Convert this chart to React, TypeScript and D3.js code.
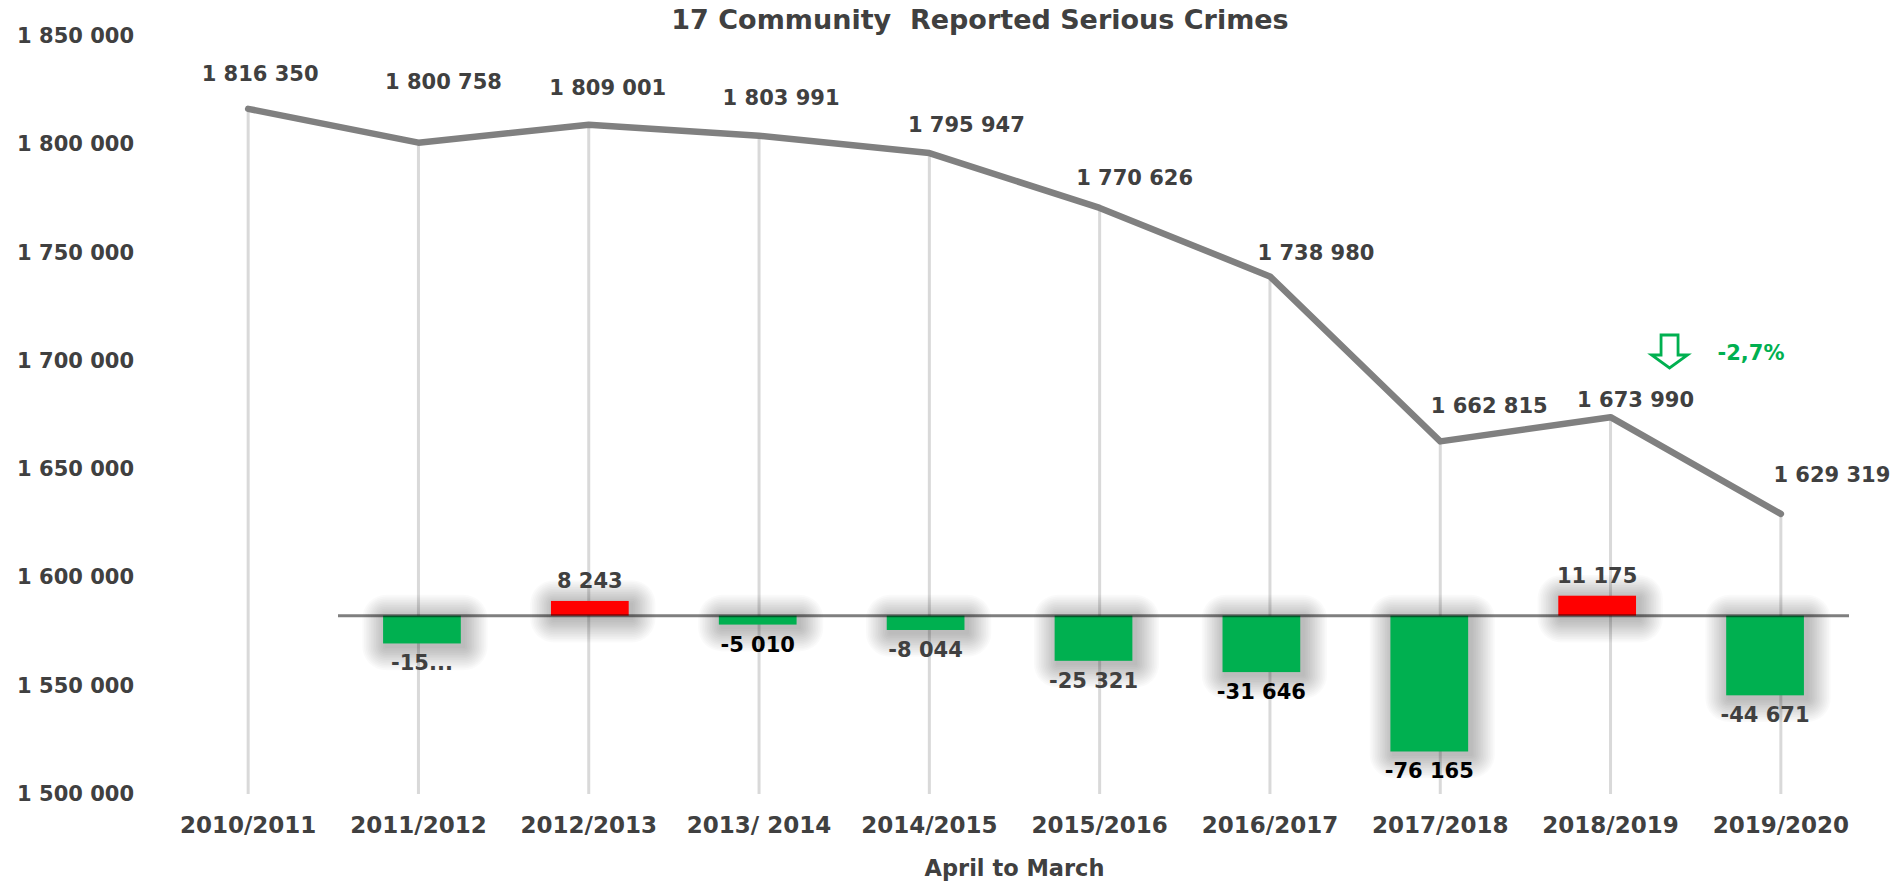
import React from "react";
import * as d3 from "d3";

const categories = [
  "2010/2011", "2011/2012", "2012/2013", "2013/ 2014", "2014/2015",
  "2015/2016", "2016/2017", "2017/2018", "2018/2019", "2019/2020",
];
const totals = [1816350, 1800758, 1809001, 1803991, 1795947, 1770626, 1738980, 1662815, 1673990, 1629319];
const changeCategories = categories.slice(1);
const changes = [-15592, 8243, -5010, -8044, -25321, -31646, -76165, 11175, -44671];
const changeLabels = ["-15...", "8 243", "-5 010", "-8 044", "-25 321", "-31 646", "-76 165", "11 175", "-44 671"];
const darkChangeLabels = ["-5 010", "-31 646", "-76 165"];
const yTicks = [1500000, 1550000, 1600000, 1650000, 1700000, 1750000, 1800000, 1850000];
const title = "17 Community  Reported Serious Crimes";
const xTitle = "April to March";
const annotationText = "-2,7%";

// label nudges (layout only)
const lineLabelNudge: [number, number][] = [
  [12, -35], [25, -61], [19, -37], [22, -38], [37, -28],
  [35, -30], [46, -23], [49, -35], [25, -17], [51, -39],
];

const W = 1897;
const H = 882;
const plot = { left: 163, right: 1866, top: 36, bottom: 794 };
const FONT = "'DejaVu Sans', sans-serif";
const TEXT = "#404040";
const GREEN = "#00B050";
const RED = "#FF0000";
const haloSteps = d3.range(1, 15);

const fmt = (v: number) => d3.format(",")(v).replace(/,/g, " ");

export default function App() {
  const x = d3.scaleBand<string>().domain(categories).range([plot.left, plot.right]).padding(0);
  const xc = (c: string) => (x(c) as number) + x.bandwidth() / 2;
  const y = d3.scaleLinear().domain([1500000, 1850000]).range([plot.bottom, plot.top]);
  const y2 = d3.scaleLinear().domain([-100000, 325000]).range([plot.bottom, plot.top]);
  const xb = d3.scaleBand<string>().domain(changeCategories).range([338, 1849]).padding(0);
  const barW = xb.bandwidth() * 0.463;
  const xbc = (c: string) => (xb(c) as number) + xb.bandwidth() / 2;

  const line = d3
    .line<number>()
    .x((_, i) => xc(categories[i]))
    .y((d) => y(d));

  const zero = y2(0);
  const annX = xc(categories[8]) + 59;
  const annTop = 335;

  const bars = changes.map((v, i) => {
    const c = changeCategories[i];
    const top = v >= 0 ? y2(v) : zero;
    const h = Math.abs(y2(v) - zero);
    return { c, v, x0: xbc(c) - barW / 2, top, h };
  });

  return (
    <svg width={W} height={H} style={{ display: "block", position: "absolute", left: 0, top: 0, background: "#fff" }} fontFamily={FONT}>
      <rect x={0} y={0} width={W} height={H} fill="#fff" />

      <text x={980} y={19} textAnchor="middle" dominantBaseline="central" fontSize={27} fontWeight="bold" fill={TEXT} style={{ whiteSpace: "pre" }}>
        {title}
      </text>

      {yTicks.map((t) => (
        <text key={t} x={134} y={y(t)} textAnchor="end" dominantBaseline="central" fontSize={21} fontWeight="bold" fill={TEXT}>
          {fmt(t)}
        </text>
      ))}

      {categories.map((c) => (
        <text key={c} x={xc(c)} y={825} textAnchor="middle" dominantBaseline="central" fontSize={23} fontWeight="bold" fill={TEXT} style={{ whiteSpace: "pre" }}>
          {c}
        </text>
      ))}
      <text x={(plot.left + plot.right) / 2} y={868} textAnchor="middle" dominantBaseline="central" fontSize={22.5} fontWeight="bold" fill={TEXT}>
        {xTitle}
      </text>

      {totals.map((v, i) => (
        <line key={i} x1={xc(categories[i])} x2={xc(categories[i])} y1={y(v)} y2={plot.bottom} stroke="#d9d9d9" strokeWidth={3} />
      ))}

      <path d={line(totals) || ""} fill="none" stroke="#808080" strokeWidth={6.5} strokeLinejoin="round" strokeLinecap="round" />

      {bars.map((b) => (
        <g key={"halo" + b.c}>
          {haloSteps.map((k) => {
            const e = k * 1.7;
            return (
              <rect
                key={k}
                x={b.x0 - e + 3}
                y={b.top - e + 3}
                width={barW + 2 * e}
                height={b.h + 2 * e}
                rx={e}
                ry={e}
                fill="#000"
                fillOpacity={0.018}
              />
            );
          })}
        </g>
      ))}

      {bars.map((b) => (
        <rect key={b.c} x={b.x0} y={b.top} width={barW} height={b.h} fill={b.v >= 0 ? RED : GREEN} />
      ))}

      <line x1={338} x2={1849} y1={zero} y2={zero} stroke="#000" strokeOpacity={0.5} strokeWidth={3} />

      {changes.map((v, i) => {
        const c = changeCategories[i];
        const ly = v >= 0 ? y2(v) - 20 : y2(v) + 20;
        const lbl = changeLabels[i];
        return (
          <text key={c} x={xbc(c)} y={ly} textAnchor="middle" dominantBaseline="central" fontSize={21} fontWeight="bold" fill={darkChangeLabels.includes(lbl) ? "#000" : TEXT}>
            {lbl}
          </text>
        );
      })}

      {totals.map((v, i) => (
        <text key={i} x={xc(categories[i]) + lineLabelNudge[i][0]} y={y(v) + lineLabelNudge[i][1]} textAnchor="middle" dominantBaseline="central" fontSize={21} fontWeight="bold" fill={TEXT}>
          {fmt(v)}
        </text>
      ))}

      <path
        d={`M${annX - 8.5},${annTop} L${annX + 8.5},${annTop} L${annX + 8.5},${annTop + 20} L${annX + 18},${annTop + 20} L${annX},${annTop + 33} L${annX - 18},${annTop + 20} L${annX - 8.5},${annTop + 20} Z`}
        fill="#fff"
        stroke={GREEN}
        strokeWidth={2.8}
        strokeLinejoin="miter"
      />
      <text x={1751} y={353} textAnchor="middle" dominantBaseline="central" fontSize={21} fontWeight="bold" fill={GREEN}>
        {annotationText}
      </text>
    </svg>
  );
}
